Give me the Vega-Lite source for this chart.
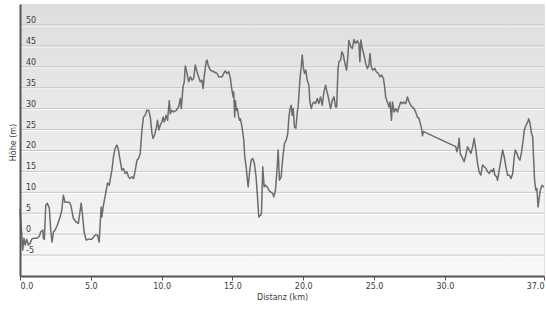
{
  "$schema": "https://vega.github.io/schema/vega-lite/v6.json",
  "width": 524,
  "height": 272,
  "autosize": {"type": "none"},
  "padding": {"left": 20, "top": 4, "right": 2, "bottom": 33},
  "background": "#ffffff",
  "config": {
    "view": {"stroke": "#e2e2e2", "strokeWidth": 1},
    "font": "DejaVu Sans",
    "axis": {"labelFont": "DejaVu Sans", "titleFont": "DejaVu Sans", "labelFontSize": 8, "titleFontSize": 8, "labelColor": "#3a3a3a", "titleColor": "#3a3a3a", "titleFontWeight": "normal"},
    "axisY": {
      "grid": false, "ticks": false, "labels": false,
      "domainColor": "#555555", "domainWidth": 2,
      "titleX": -3, "titleY": 138, "titleAlign": "center", "titleAngle": -90
    },
    "axisX": {
      "grid": false, "ticks": true, "tickSize": 4, "tickColor": "#555555", "tickWidth": 1,
      "domainColor": "#555555", "domainWidth": 2, "labelPadding": 2, "titlePadding": 3
    }
  },
  "datasets": {
    "profile": [
      {"km": 0.00, "m": 6.0}, {"km": 0.12, "m": 0.2}, {"km": 0.19, "m": -3.8}, {"km": 0.28, "m": -1.0}, {"km": 0.37, "m": -2.6},
      {"km": 0.47, "m": -1.2}, {"km": 0.59, "m": -2.6}, {"km": 0.71, "m": -2.2}, {"km": 0.83, "m": -1.2}, {"km": 0.94, "m": -1.0},
      {"km": 1.18, "m": -1.0}, {"km": 1.37, "m": -0.5}, {"km": 1.46, "m": 0.5}, {"km": 1.61, "m": 1.0}, {"km": 1.65, "m": -1.0},
      {"km": 1.72, "m": -1.2}, {"km": 1.82, "m": 6.9}, {"km": 1.93, "m": 7.4}, {"km": 2.07, "m": 6.2}, {"km": 2.17, "m": 1.0},
      {"km": 2.26, "m": -1.9}, {"km": 2.36, "m": 0.5}, {"km": 2.48, "m": 1.0}, {"km": 2.64, "m": 2.2}, {"km": 2.83, "m": 4.1},
      {"km": 2.95, "m": 5.7}, {"km": 3.06, "m": 9.3}, {"km": 3.18, "m": 7.6}, {"km": 3.30, "m": 7.6}, {"km": 3.49, "m": 7.6},
      {"km": 3.59, "m": 6.9}, {"km": 3.77, "m": 3.8}, {"km": 3.96, "m": 2.9}, {"km": 4.12, "m": 2.6}, {"km": 4.32, "m": 7.4},
      {"km": 4.39, "m": 5.3}, {"km": 4.53, "m": 0.5}, {"km": 4.67, "m": -1.4}, {"km": 4.83, "m": -1.2}, {"km": 5.07, "m": -1.2},
      {"km": 5.31, "m": -0.2}, {"km": 5.47, "m": -0.2}, {"km": 5.59, "m": -1.9}, {"km": 5.73, "m": 6.5}, {"km": 5.78, "m": 4.1},
      {"km": 5.89, "m": 6.9}, {"km": 6.06, "m": 10.0}, {"km": 6.18, "m": 12.2}, {"km": 6.30, "m": 11.7}, {"km": 6.49, "m": 15.3},
      {"km": 6.60, "m": 18.5}, {"km": 6.72, "m": 20.5}, {"km": 6.84, "m": 21.3}, {"km": 6.95, "m": 20.1}, {"km": 7.07, "m": 17.7},
      {"km": 7.19, "m": 15.3}, {"km": 7.31, "m": 15.7}, {"km": 7.43, "m": 14.5}, {"km": 7.55, "m": 14.9}, {"km": 7.66, "m": 13.7},
      {"km": 7.78, "m": 13.3}, {"km": 7.90, "m": 13.7}, {"km": 8.02, "m": 13.3}, {"km": 8.14, "m": 15.3}, {"km": 8.26, "m": 17.7},
      {"km": 8.37, "m": 18.1}, {"km": 8.49, "m": 19.3}, {"km": 8.61, "m": 24.9}, {"km": 8.72, "m": 28.0}, {"km": 8.84, "m": 28.4},
      {"km": 8.96, "m": 29.6}, {"km": 9.08, "m": 29.6}, {"km": 9.20, "m": 28.0}, {"km": 9.32, "m": 24.1}, {"km": 9.39, "m": 22.9},
      {"km": 9.50, "m": 23.7}, {"km": 9.62, "m": 25.3}, {"km": 9.71, "m": 27.2}, {"km": 9.81, "m": 24.9}, {"km": 9.90, "m": 26.0},
      {"km": 10.02, "m": 26.8}, {"km": 10.10, "m": 28.0}, {"km": 10.19, "m": 26.8}, {"km": 10.31, "m": 28.4}, {"km": 10.42, "m": 27.2},
      {"km": 10.54, "m": 31.9}, {"km": 10.61, "m": 28.8}, {"km": 10.73, "m": 29.6}, {"km": 10.85, "m": 29.2}, {"km": 11.04, "m": 29.6},
      {"km": 11.20, "m": 30.4}, {"km": 11.32, "m": 32.4}, {"km": 11.39, "m": 30.0}, {"km": 11.51, "m": 35.2}, {"km": 11.60, "m": 36.4},
      {"km": 11.67, "m": 40.2}, {"km": 11.79, "m": 38.5}, {"km": 11.91, "m": 36.4}, {"km": 12.03, "m": 37.6}, {"km": 12.15, "m": 36.8},
      {"km": 12.26, "m": 37.2}, {"km": 12.38, "m": 40.4}, {"km": 12.50, "m": 38.8}, {"km": 12.61, "m": 37.6}, {"km": 12.73, "m": 36.4},
      {"km": 12.85, "m": 36.8}, {"km": 12.93, "m": 34.8}, {"km": 13.02, "m": 38.0}, {"km": 13.14, "m": 41.2}, {"km": 13.21, "m": 41.6},
      {"km": 13.28, "m": 40.4}, {"km": 13.44, "m": 39.2}, {"km": 13.68, "m": 38.8}, {"km": 13.92, "m": 38.4}, {"km": 14.03, "m": 37.6},
      {"km": 14.27, "m": 37.6}, {"km": 14.38, "m": 38.4}, {"km": 14.50, "m": 39.0}, {"km": 14.62, "m": 38.4}, {"km": 14.74, "m": 38.8},
      {"km": 14.86, "m": 37.2}, {"km": 14.93, "m": 35.2}, {"km": 15.05, "m": 32.8}, {"km": 15.09, "m": 34.0}, {"km": 15.16, "m": 28.0},
      {"km": 15.21, "m": 31.9}, {"km": 15.28, "m": 29.6}, {"km": 15.35, "m": 30.0}, {"km": 15.44, "m": 28.0}, {"km": 15.51, "m": 27.2},
      {"km": 15.56, "m": 27.6}, {"km": 15.68, "m": 25.6}, {"km": 15.80, "m": 22.5}, {"km": 15.87, "m": 18.5}, {"km": 15.97, "m": 16.1},
      {"km": 16.06, "m": 12.9}, {"km": 16.11, "m": 11.3}, {"km": 16.20, "m": 14.5}, {"km": 16.32, "m": 17.7}, {"km": 16.43, "m": 18.1},
      {"km": 16.55, "m": 16.9}, {"km": 16.67, "m": 13.7}, {"km": 16.77, "m": 8.9}, {"km": 16.86, "m": 4.1}, {"km": 16.98, "m": 4.5},
      {"km": 17.05, "m": 4.9}, {"km": 17.14, "m": 16.1}, {"km": 17.24, "m": 11.3}, {"km": 17.33, "m": 11.7}, {"km": 17.45, "m": 11.3},
      {"km": 17.57, "m": 10.5}, {"km": 17.69, "m": 10.1}, {"km": 17.85, "m": 9.7}, {"km": 17.92, "m": 8.9}, {"km": 18.04, "m": 10.5},
      {"km": 18.16, "m": 16.1}, {"km": 18.23, "m": 20.1}, {"km": 18.32, "m": 12.9}, {"km": 18.44, "m": 13.7}, {"km": 18.56, "m": 18.5},
      {"km": 18.68, "m": 21.7}, {"km": 18.80, "m": 22.5}, {"km": 18.91, "m": 24.1}, {"km": 18.98, "m": 27.6}, {"km": 19.05, "m": 29.6},
      {"km": 19.15, "m": 30.8}, {"km": 19.22, "m": 28.4}, {"km": 19.29, "m": 30.0}, {"km": 19.38, "m": 25.6}, {"km": 19.48, "m": 25.3},
      {"km": 19.58, "m": 29.2}, {"km": 19.65, "m": 30.8}, {"km": 19.76, "m": 36.8}, {"km": 19.86, "m": 40.0}, {"km": 19.93, "m": 42.8},
      {"km": 20.00, "m": 40.0}, {"km": 20.09, "m": 38.4}, {"km": 20.18, "m": 39.2}, {"km": 20.28, "m": 36.8}, {"km": 20.40, "m": 35.6},
      {"km": 20.47, "m": 31.6}, {"km": 20.57, "m": 30.0}, {"km": 20.66, "m": 31.2}, {"km": 20.75, "m": 31.6}, {"km": 20.87, "m": 31.2},
      {"km": 20.99, "m": 32.4}, {"km": 21.10, "m": 31.2}, {"km": 21.22, "m": 32.8}, {"km": 21.34, "m": 30.8}, {"km": 21.46, "m": 34.0},
      {"km": 21.58, "m": 35.6}, {"km": 21.65, "m": 34.4}, {"km": 21.74, "m": 33.2}, {"km": 21.81, "m": 32.0}, {"km": 21.93, "m": 30.0},
      {"km": 22.05, "m": 32.0}, {"km": 22.17, "m": 32.8}, {"km": 22.28, "m": 30.4}, {"km": 22.36, "m": 30.4}, {"km": 22.45, "m": 39.2},
      {"km": 22.52, "m": 41.2}, {"km": 22.64, "m": 41.6}, {"km": 22.73, "m": 43.6}, {"km": 22.83, "m": 42.8}, {"km": 22.92, "m": 41.2},
      {"km": 23.06, "m": 39.2}, {"km": 23.15, "m": 42.5}, {"km": 23.22, "m": 46.3}, {"km": 23.35, "m": 44.8}, {"km": 23.47, "m": 44.4},
      {"km": 23.58, "m": 46.5}, {"km": 23.70, "m": 45.6}, {"km": 23.82, "m": 46.2}, {"km": 23.93, "m": 45.6}, {"km": 24.00, "m": 41.2},
      {"km": 24.07, "m": 46.4}, {"km": 24.17, "m": 44.4}, {"km": 24.29, "m": 42.8}, {"km": 24.41, "m": 40.8}, {"km": 24.53, "m": 39.6},
      {"km": 24.64, "m": 40.4}, {"km": 24.71, "m": 43.2}, {"km": 24.81, "m": 39.9}, {"km": 24.92, "m": 39.2}, {"km": 25.06, "m": 39.6},
      {"km": 25.16, "m": 38.8}, {"km": 25.31, "m": 38.4}, {"km": 25.42, "m": 37.6}, {"km": 25.54, "m": 38.0}, {"km": 25.66, "m": 37.2},
      {"km": 25.75, "m": 35.2}, {"km": 25.82, "m": 32.8}, {"km": 25.94, "m": 31.6}, {"km": 26.06, "m": 30.4}, {"km": 26.13, "m": 31.6},
      {"km": 26.23, "m": 27.2}, {"km": 26.30, "m": 31.6}, {"km": 26.41, "m": 29.2}, {"km": 26.53, "m": 30.0}, {"km": 26.65, "m": 29.2},
      {"km": 26.76, "m": 30.4}, {"km": 26.88, "m": 31.6}, {"km": 27.00, "m": 31.2}, {"km": 27.12, "m": 31.6}, {"km": 27.24, "m": 31.2},
      {"km": 27.36, "m": 32.8}, {"km": 27.47, "m": 31.6}, {"km": 27.59, "m": 30.8}, {"km": 27.71, "m": 30.4}, {"km": 27.82, "m": 30.0},
      {"km": 27.94, "m": 29.2}, {"km": 28.06, "m": 28.0}, {"km": 28.18, "m": 27.6}, {"km": 28.30, "m": 26.0}, {"km": 28.37, "m": 24.9},
      {"km": 28.42, "m": 23.5}, {"km": 28.49, "m": 24.5}, {"km": 30.77, "m": 20.9}, {"km": 30.84, "m": 19.7}, {"km": 30.94, "m": 20.9},
      {"km": 31.01, "m": 22.9}, {"km": 31.08, "m": 19.3}, {"km": 31.20, "m": 18.5}, {"km": 31.36, "m": 17.3}, {"km": 31.48, "m": 18.9},
      {"km": 31.60, "m": 20.9}, {"km": 31.72, "m": 20.1}, {"km": 31.84, "m": 19.3}, {"km": 31.96, "m": 20.9}, {"km": 32.07, "m": 22.9},
      {"km": 32.19, "m": 20.1}, {"km": 32.31, "m": 16.9}, {"km": 32.42, "m": 14.9}, {"km": 32.54, "m": 14.1}, {"km": 32.66, "m": 16.5},
      {"km": 32.78, "m": 16.1}, {"km": 32.90, "m": 15.7}, {"km": 33.02, "m": 14.9}, {"km": 33.13, "m": 14.5}, {"km": 33.25, "m": 15.3},
      {"km": 33.37, "m": 14.9}, {"km": 33.44, "m": 15.7}, {"km": 33.53, "m": 14.1}, {"km": 33.65, "m": 13.7}, {"km": 33.72, "m": 12.9},
      {"km": 33.84, "m": 15.3}, {"km": 33.96, "m": 17.7}, {"km": 34.08, "m": 20.1}, {"km": 34.19, "m": 18.5}, {"km": 34.31, "m": 16.1},
      {"km": 34.43, "m": 14.1}, {"km": 34.55, "m": 14.1}, {"km": 34.67, "m": 13.3}, {"km": 34.79, "m": 14.5}, {"km": 34.90, "m": 18.5},
      {"km": 34.97, "m": 20.1}, {"km": 35.09, "m": 19.3}, {"km": 35.21, "m": 18.1}, {"km": 35.30, "m": 17.7}, {"km": 35.42, "m": 19.7},
      {"km": 35.53, "m": 22.5}, {"km": 35.61, "m": 24.9}, {"km": 35.73, "m": 26.0}, {"km": 35.85, "m": 26.8}, {"km": 35.92, "m": 27.6},
      {"km": 36.01, "m": 26.5}, {"km": 36.10, "m": 24.4}, {"km": 36.15, "m": 23.7}, {"km": 36.20, "m": 23.3}, {"km": 36.27, "m": 17.7},
      {"km": 36.34, "m": 12.6}, {"km": 36.43, "m": 10.5}, {"km": 36.50, "m": 10.9}, {"km": 36.58, "m": 6.5}, {"km": 36.67, "m": 8.9},
      {"km": 36.74, "m": 10.5}, {"km": 36.86, "m": 11.7}, {"km": 36.98, "m": 11.3}, {"km": 37.00, "m": 11.3}
    ],
    "grid": [
      {"v": -5}, {"v": 0}, {"v": 5}, {"v": 10}, {"v": 15}, {"v": 20}, {"v": 25}, {"v": 30}, {"v": 35}, {"v": 40}, {"v": 45}, {"v": 50}
    ]
  },
  "layer": [
    {
      "data": {"values": [{}]},
      "mark": {
        "type": "rect",
        "fill": {"gradient": "linear", "x1": 0, "y1": 0, "x2": 0, "y2": 1,
          "stops": [{"offset": 0, "color": "#dedede"}, {"offset": 1, "color": "#f8f8f8"}]}
      },
      "encoding": {
        "x": {"datum": 0, "type": "quantitative"},
        "x2": {"datum": 37},
        "y": {"datum": 55, "type": "quantitative"},
        "y2": {"datum": -10}
      }
    },
    {
      "data": {"name": "grid"},
      "mark": {"type": "rule", "color": "#ffffff", "strokeWidth": 1, "yOffset": 1},
      "encoding": {"y": {"field": "v", "type": "quantitative", "title": "Höhe (m)"}}
    },
    {
      "data": {"name": "grid"},
      "mark": {"type": "rule", "color": "#c6c6c6", "strokeWidth": 1},
      "encoding": {"y": {"field": "v", "type": "quantitative", "title": "Höhe (m)"}}
    },
    {
      "data": {"name": "profile"},
      "mark": {"type": "line", "color": "#6c6c6c", "strokeWidth": 1.5, "strokeJoin": "round"},
      "encoding": {
        "x": {
          "field": "km", "type": "quantitative", "title": "Distanz (km)",
          "scale": {"domain": [0, 37], "nice": false, "zero": false},
          "axis": {"values": [0, 5, 10, 15, 20, 25, 30, 37], "format": ".1f", "zindex": 1}
        },
        "y": {
          "field": "m", "type": "quantitative", "title": "Höhe (m)",
          "scale": {"domain": [-10, 55], "nice": false, "zero": false},
          "axis": {"values": [-5, 0, 5, 10, 15, 20, 25, 30, 35, 40, 45, 50], "zindex": 1}
        }
      }
    },
    {
      "data": {"name": "grid"},
      "mark": {"type": "text", "align": "left", "baseline": "alphabetic", "dx": 6, "dy": -2, "font": "DejaVu Sans", "fontSize": 8, "color": "#3a3a3a"},
      "encoding": {
        "x": {"datum": 0, "type": "quantitative"},
        "y": {"field": "v", "type": "quantitative", "title": "Höhe (m)"},
        "text": {"field": "v", "type": "nominal"}
      }
    }
  ]
}
